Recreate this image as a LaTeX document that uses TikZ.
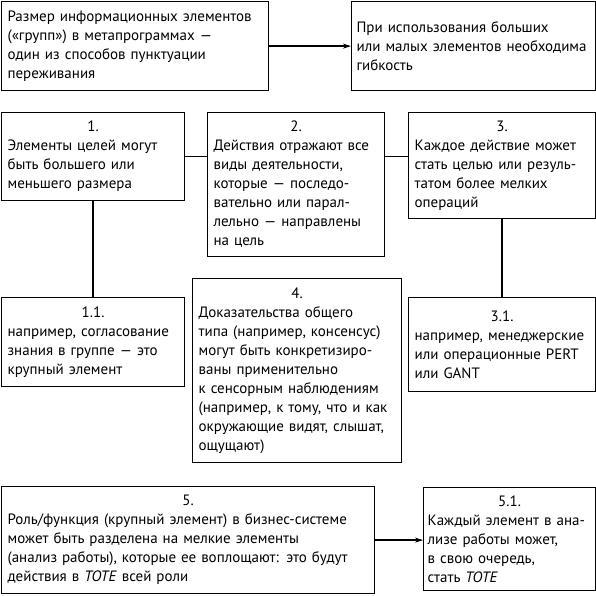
\documentclass[tikz,border=0pt]{standalone}
\usepackage{fontspec}
\setmainfont{PT Sans}
\usepackage{tikz}
\usetikzlibrary{arrows.meta}

\tikzset{
  blok/.style={draw, line width=1.2pt, anchor=north west, inner sep=0pt,
    align=left, font=\fontsize{15}{19}\selectfont},
  svyaz/.style={line width=1.5pt},
  strelka/.style={svyaz, -{Stealth[length=8pt,width=5pt]}}
}
\newcommand{\nomer}[1]{\makebox[\hsize]{#1}\\}

\begin{document}
\begin{tikzpicture}[x=1pt,y=1pt]

\useasboundingbox (0,0) rectangle (596,-595);

\node[blok, minimum width=267pt, minimum height=89pt, text width=255pt] (razmer) at (1,-1)
{Размер информационных элементов\\(«групп») в метапрограммах —\\один из способов пунктуации\\переживания};
\node[blok, minimum width=244pt, minimum height=89pt, text width=234pt] (gibkost) at (351,-1)
{При использования больших\\или малых элементов необходима\\гибкость};

\node[blok, minimum width=183pt, minimum height=88pt, text width=171pt] (celi) at (1,-112)
{\nomer{1.}Элементы целей могут\\быть большего или\\меньшего размера};
\node[blok, minimum width=177pt, minimum height=144pt, text width=165pt] (dejstv) at (207,-112)
{\nomer{2.}Действия отражают все\\виды деятельности,\\которые — последо-\\вательно или парал-\\лельно — направлены\\на цель};
\node[blok, minimum width=187pt, minimum height=106pt, text width=175pt] (kazhdoe) at (408,-112)
{\nomer{3.}Каждое действие может\\стать целью или резуль-\\татом более мелких\\операций};

\node[blok, minimum width=183pt, minimum height=89pt, text width=171pt] (soglas) at (1,-297)
{\nomer{1.1.}например, согласование\\знания в группе — это\\крупный элемент};
\node[blok, minimum width=209pt, minimum height=184pt, text width=197pt] (dokaz) at (192,-278)
{\nomer{4.}Доказательства общего\\типа (например, консенсус)\\могут быть конкретизиро-\\ваны применительно\\к сенсорным наблюдениям\\(например, к тому, что и как\\окружающие видят, слышат,\\ощущают)};
\node[blok, minimum width=187pt, minimum height=94pt, text width=175pt] (pert) at (408,-297)
{\nomer{3.1.}например, менеджерские\\или операционные PERT\\или GANT};

\node[blok, minimum width=373pt, minimum height=107pt, text width=361pt] (rol) at (1,-486)
{\nomer{5.}Роль/функция (крупный элемент) в бизнес-системе\\может быть разделена на мелкие элементы\\(анализ работы), которые ее воплощают: это будут\\действия в \emph{TOTE} всей роли};
\node[blok, minimum width=172pt, minimum height=103pt, text width=164pt] (tote) at (423,-487)
{\nomer{5.1.}Каждый элемент в ана-\\лизе работы может,\\в свою очередь,\\стать \emph{TOTE}};

% связи
\draw[strelka] (razmer) -- (gibkost);
\draw[svyaz] (celi.east) -- (celi.east -| dejstv.west);
\draw[svyaz] (celi.east -| dejstv.east) -- (celi.east -| kazhdoe.west);
\draw[svyaz] (celi.south) -- (soglas.north);
\draw[svyaz] (kazhdoe.south) -- (pert.north);
\draw[strelka] (rol.east) -- (rol.east -| tote.west);

\end{tikzpicture}
\end{document}
